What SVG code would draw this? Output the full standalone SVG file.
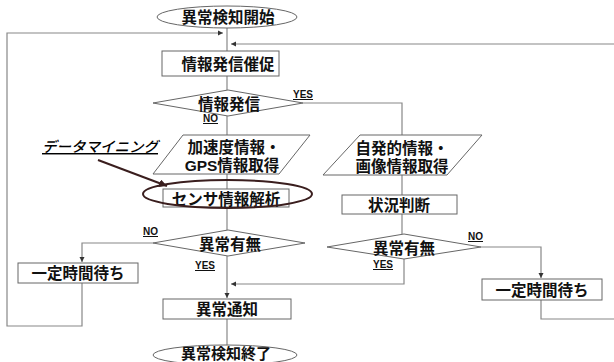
<svg xmlns="http://www.w3.org/2000/svg" width="614" height="362" viewBox="0 0 614 362">
<style>
.bg{fill:#fff}
.shape{fill:#fff;stroke:#666;stroke-width:1}
.ln{fill:none;stroke:#888;stroke-width:1.2}
.t{font-family:"Liberation Sans","Noto Sans CJK JP",sans-serif;font-weight:bold;font-size:15.5px;fill:#111;text-anchor:middle;dominant-baseline:central}
.lbl{font-family:"Liberation Sans",sans-serif;font-weight:bold;font-size:10px;fill:#111;text-decoration:underline}
.dm{font-family:"Noto Sans CJK JP",sans-serif;font-style:italic;font-weight:500;font-size:14.5px;fill:#000;text-decoration:underline}
</style>
<defs>
<marker id="ah" markerWidth="6" markerHeight="6" refX="5" refY="3" orient="auto" markerUnits="userSpaceOnUse">
<path d="M0,0.5 L5,3 L0,5.5 Z" fill="#333"/>
</marker>
<marker id="ah2" markerWidth="10" markerHeight="10" refX="8" refY="4" orient="auto" markerUnits="userSpaceOnUse">
<path d="M0,0 L8,4 L0,8 Z" fill="#3a1e1e"/>
</marker>
</defs>
<rect class="bg" x="0" y="0" width="614" height="362"/>
<g id="connectors">
<line class="ln" x1="227" y1="28" x2="227" y2="51"/>
<polyline class="ln" points="82,283 82,326 7,326 7,33 223,33" marker-end="url(#ah)"/>
<polyline class="ln" points="614,44 231,44" marker-end="url(#ah)"/>
<line class="ln" x1="227" y1="76" x2="227" y2="90"/>
<polyline class="ln" points="303,103 402,103 402,135"/>
<line class="ln" x1="227" y1="116" x2="227" y2="135"/>
<line class="ln" x1="227" y1="174" x2="227" y2="189"/>
<line class="ln" x1="227" y1="207" x2="227" y2="230"/>
<polyline class="ln" points="153,243 82,243 82,262" marker-end="url(#ah)"/>
<line class="ln" x1="227" y1="256" x2="227" y2="298" marker-end="url(#ah)"/>
<line class="ln" x1="227" y1="319" x2="227" y2="345"/>
<line class="ln" x1="402" y1="175" x2="402" y2="195"/>
<line class="ln" x1="402" y1="214" x2="402" y2="234"/>
<polyline class="ln" points="481,247 541,247 541,278" marker-end="url(#ah)"/>
<polyline class="ln" points="541,300 541,319 614,319"/>
<polyline class="ln" points="404,259 404,284 231,284" marker-end="url(#ah)"/>
<line x1="98" y1="160" x2="167" y2="186" stroke="#3a1e1e" stroke-width="2" marker-end="url(#ah2)"/>
</g>
<g id="start">
<ellipse class="shape" cx="227" cy="17" rx="70" ry="11"/>
<text class="t" x="228" y="17">異常検知開始</text>
</g>
<g id="prompt">
<rect class="shape" x="162" y="51" width="117" height="25"/>
<text class="t" x="228" y="64">情報発信催促</text>
</g>
<g id="decision1">
<polygon class="shape" points="153,103 228,90 303,103 228,116"/>
<text class="t" x="229" y="104">情報発信</text>
<text class="lbl" x="293" y="98">YES</text>
<text class="lbl" x="203" y="122">NO</text>
</g>
<g id="accel">
<polygon class="shape" points="183,135 310,135 279,174 153,174"/>
<text class="t" x="234" y="147">加速度情報・</text>
<text class="t" x="232" y="165">GPS情報取得</text>
</g>
<g id="datamining">
<text class="dm" x="42" y="152">データマイニング</text>
</g>
<g id="sensor">
<rect class="shape" x="163" y="189" width="126" height="18"/>
<text class="t" x="226" y="199">センサ情報解析</text>
<ellipse cx="227.5" cy="194" rx="84.5" ry="14" fill="none" stroke="#3a1e1e" stroke-width="2"/>
</g>
<g id="decision2">
<polygon class="shape" points="153,243 228,230 305,243 228,256"/>
<text class="t" x="230" y="244">異常有無</text>
<text class="lbl" x="143" y="235">NO</text>
<text class="lbl" x="195" y="269">YES</text>
</g>
<g id="wait1">
<rect class="shape" x="18" y="263" width="120" height="20"/>
<text class="t" x="78" y="273">一定時間待ち</text>
</g>
<g id="notify">
<rect class="shape" x="163" y="299" width="128" height="20"/>
<text class="t" x="227" y="309">異常通知</text>
</g>
<g id="end">
<ellipse class="shape" cx="225" cy="355" rx="72" ry="10"/>
<text class="t" x="226" y="353" style="font-size:15px">異常検知終了</text>
</g>
<g id="voluntary">
<polygon class="shape" points="360,135 482,135 447,175 323,175"/>
<text class="t" x="402" y="148">自発的情報・</text>
<text class="t" x="402" y="166">画像情報取得</text>
</g>
<g id="judge">
<rect class="shape" x="342" y="195" width="115" height="19"/>
<text class="t" x="399" y="205">状況判断</text>
</g>
<g id="decision3">
<polygon class="shape" points="327,247 404,234 481,247 404,259"/>
<text class="t" x="404" y="248">異常有無</text>
<text class="lbl" x="468" y="240">NO</text>
<text class="lbl" x="373" y="268">YES</text>
</g>
<g id="wait2">
<rect class="shape" x="482" y="279" width="120" height="21"/>
<text class="t" x="542" y="290">一定時間待ち</text>
</g>
</svg>
